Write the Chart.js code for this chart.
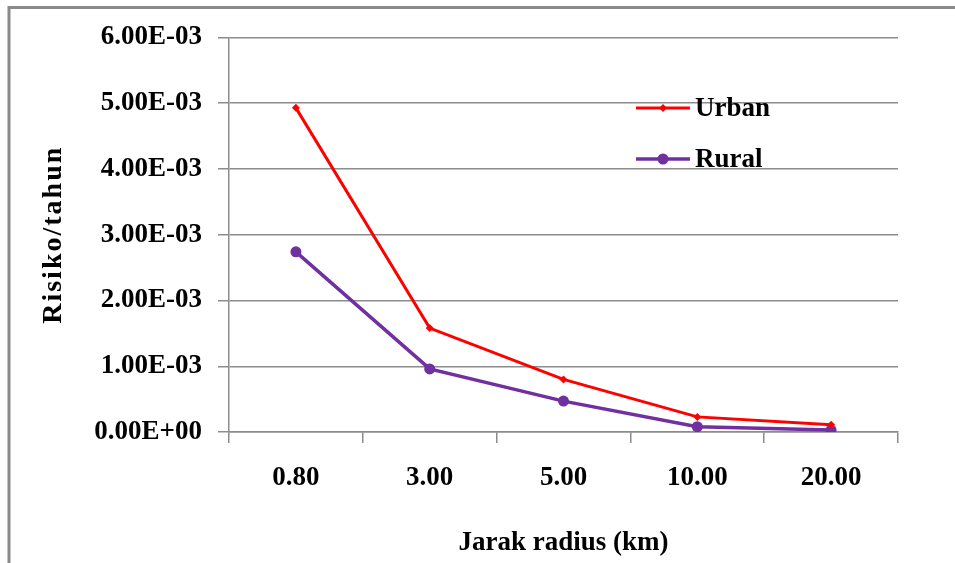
<!DOCTYPE html>
<html lang="id">
<head>
  <meta charset="UTF-8">
  <title>Risiko per tahun</title>
  <style>
    body { margin: 0; background: #fff; }
    canvas { display: block; }
  </style>
</head>
<body>
  <canvas id="riskChart" width="955" height="563"></canvas>

  <script src="https://cdn.jsdelivr.net/npm/chart.js"></script>
  <script>
    const categories = ["0.80", "3.00", "5.00", "10.00", "20.00"];
    const urbanRisk = [4.93e-3, 1.58e-3, 0.80e-3, 0.23e-3, 0.11e-3];
    const ruralRisk = [2.74e-3, 0.96e-3, 0.47e-3, 0.08e-3, 0.03e-3];
    const yTicks = [0, 1e-3, 2e-3, 3e-3, 4e-3, 5e-3, 6e-3];

    const FONT = "'Liberation Serif', 'Times New Roman', serif";
    const FSIZE = 27;
    const GRID = "#8c8c8c";

    // 6.00E-03 style labels like Excel
    function sci(v) {
      if (Math.abs(v) < 1e-12) return "0.00E+00";
      const e = Math.floor(Math.log10(Math.abs(v)) + 1e-9);
      const m = v / Math.pow(10, e);
      return m.toFixed(2) + "E" + (e < 0 ? "-" : "+") + String(Math.abs(e)).padStart(2, "0");
    }

    // frame + legend drawn by hand (Excel style legend inside plot)
    const decor = {
      id: "decor",
      afterDraw(chart) {
        const ctx = chart.ctx;
        ctx.save();
        ctx.strokeStyle = "#8a8a8a";
        ctx.lineWidth = 3;
        ctx.beginPath();
        ctx.moveTo(9, 563);
        ctx.lineTo(9, 7.5);
        ctx.lineTo(955, 7.5);
        ctx.stroke();

        const items = chart.data.datasets;
        items.forEach((ds, i) => {
          const y = 108 + i * 51;
          ctx.strokeStyle = ds.borderColor;
          ctx.lineWidth = ds.borderWidth;
          ctx.beginPath();
          ctx.moveTo(636, y);
          ctx.lineTo(690, y);
          ctx.stroke();
          ctx.fillStyle = ds.borderColor;
          ctx.beginPath();
          if (ds.pointStyle === "circle") {
            ctx.arc(663, y, ds.pointRadius, 0, Math.PI * 2);
          } else {
            const r = ds.pointRadius;
            ctx.moveTo(663, y - r); ctx.lineTo(663 + r, y);
            ctx.lineTo(663, y + r); ctx.lineTo(663 - r, y);
            ctx.closePath();
          }
          ctx.fill();
          ctx.fillStyle = "#000";
          ctx.font = "bold " + FSIZE + "px " + FONT;
          ctx.textBaseline = "middle";
          ctx.textAlign = "left";
          ctx.fillText(ds.label, 695, y + 1);
        });
        ctx.restore();
      }
    };

    const tickFont = { family: FONT, size: FSIZE, weight: "bold" };

    new Chart(document.getElementById("riskChart"), {
      type: "line",
      data: {
        labels: categories,
        datasets: [
          {
            label: "Urban",
            data: urbanRisk,
            borderColor: "#ff0000",
            backgroundColor: "#ff0000",
            borderWidth: 3,
            pointStyle: "rectRot",
            pointRadius: 4,
            pointBorderWidth: 0,
            tension: 0
          },
          {
            label: "Rural",
            data: ruralRisk,
            borderColor: "#7030a0",
            backgroundColor: "#7030a0",
            borderWidth: 3.5,
            pointStyle: "circle",
            pointRadius: 5.5,
            pointBorderWidth: 0,
            tension: 0
          }
        ]
      },
      options: {
        responsive: false,
        animation: false,
        devicePixelRatio: 1,
        layout: { padding: { left: 12, right: 57, top: 37.5, bottom: 0 } },
        plugins: { legend: { display: false }, tooltip: { enabled: false } },
        scales: {
          x: {
            offset: true,
            grid: { offset: true, drawOnChartArea: false, color: GRID, lineWidth: 1.5, tickLength: 11 },
            border: { color: GRID, width: 1.5 },
            ticks: { color: "#000", font: tickFont, padding: 19, maxRotation: 0 },
            title: {
              display: true, text: "Jarak radius (km)", color: "#000",
              font: tickFont, padding: { top: 0, bottom: 4 }
            },
            afterFit(scale) { scale.height = 131; }
          },
          y: {
            min: 0,
            max: 6e-3,
            afterBuildTicks(scale) { scale.ticks = yTicks.map(v => ({ value: v })); },
            grid: { color: GRID, lineWidth: 1.5, tickLength: 11 },
            border: { color: GRID, width: 1.5 },
            ticks: { color: "#000", font: tickFont, padding: 16, callback: v => sci(v) },
            title: {
              display: true, text: "Risiko/tahun", color: "#000",
              font: { family: FONT, size: 28, weight: "bold" }, padding: { top: 25, bottom: 0 }
            },
            afterFit(scale) {
              scale.width = 229 - 12;
              // the rotated title in the original is a bit stretched out
              const orig = scale.drawTitle;
              if (!scale._spaced) {
                scale._spaced = true;
                scale.drawTitle = function () {
                  const ctx = this.ctx;
                  const prev = ctx.letterSpacing;
                  ctx.letterSpacing = "2px";
                  orig.apply(this, arguments);
                  ctx.letterSpacing = prev || "0px";
                };
              }
            }
          }
        }
      },
      plugins: [decor]
    });
  </script>
</body>
</html>
